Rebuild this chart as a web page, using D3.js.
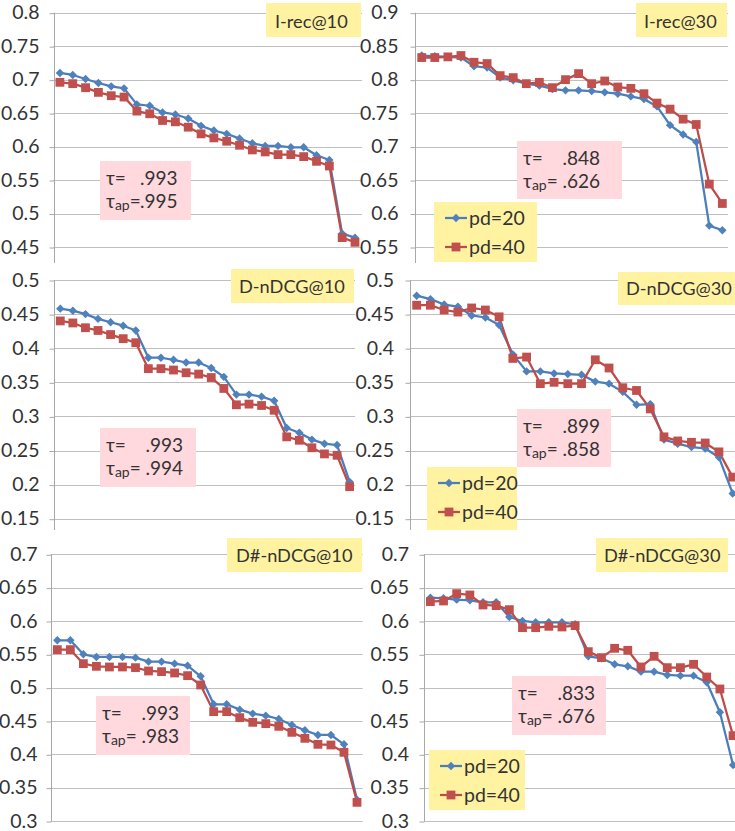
<!DOCTYPE html>
<html><head><meta charset="utf-8">
<script src="https://cdn.jsdelivr.net/npm/d3@7"></script>
<style>body{margin:0;background:#fff} svg text{font-family:Lato,"Open Sans",sans-serif;fill:#333}</style>
</head><body><svg id="c" width="735" height="831"></svg>
<script>
// ---------- data ----------
const seriesNames = ["pd=20", "pd=40"];
const titles = ["I-rec@10", "I-rec@30", "D-nDCG@10", "D-nDCG@30", "D#-nDCG@10", "D#-nDCG@30"];
const tauValues = [".993", ".848", ".993", ".899", ".993", ".833"];
const tauApValues = [".995", ".626", ".994", ".858", ".983", ".676"];

const ticksIrec10 = [0.45, 0.5, 0.55, 0.6, 0.65, 0.7, 0.75, 0.8];
const ticksIrec30 = [0.55, 0.6, 0.65, 0.7, 0.75, 0.8, 0.85, 0.9];
const ticksDndcg = [0.15, 0.2, 0.25, 0.3, 0.35, 0.4, 0.45, 0.5];
const ticksDsharp = [0.3, 0.35, 0.4, 0.45, 0.5, 0.55, 0.6, 0.65, 0.7];

const irec10_pd20 = [0.710, 0.707, 0.701, 0.695, 0.690, 0.687, 0.663, 0.661, 0.651, 0.648, 0.642, 0.631, 0.624, 0.619, 0.612, 0.605, 0.601, 0.601, 0.599, 0.599, 0.587, 0.580, 0.470, 0.464];
const irec10_pd40 = [0.696, 0.694, 0.688, 0.681, 0.676, 0.674, 0.653, 0.649, 0.639, 0.637, 0.629, 0.619, 0.613, 0.608, 0.602, 0.595, 0.592, 0.588, 0.588, 0.585, 0.578, 0.571, 0.464, 0.457];

const irec30_pd20 = [0.836, 0.835, 0.834, 0.833, 0.820, 0.818, 0.803, 0.799, 0.794, 0.791, 0.786, 0.784, 0.784, 0.783, 0.781, 0.779, 0.775, 0.771, 0.760, 0.732, 0.718, 0.707, 0.582, 0.575];
const irec30_pd40 = [0.833, 0.833, 0.834, 0.836, 0.826, 0.824, 0.806, 0.803, 0.794, 0.796, 0.788, 0.800, 0.809, 0.794, 0.798, 0.789, 0.787, 0.779, 0.765, 0.756, 0.741, 0.733, 0.644, 0.615];

const dndcg10_pd20 = [0.458, 0.455, 0.450, 0.443, 0.438, 0.433, 0.426, 0.386, 0.386, 0.383, 0.379, 0.379, 0.371, 0.358, 0.332, 0.332, 0.329, 0.323, 0.283, 0.276, 0.266, 0.260, 0.258, 0.204];
const dndcg10_pd40 = [0.440, 0.437, 0.430, 0.426, 0.420, 0.414, 0.408, 0.370, 0.370, 0.368, 0.364, 0.362, 0.357, 0.341, 0.317, 0.318, 0.316, 0.309, 0.270, 0.265, 0.254, 0.245, 0.243, 0.197];

const dndcg30_pd20 = [0.477, 0.472, 0.464, 0.461, 0.448, 0.445, 0.434, 0.391, 0.366, 0.366, 0.363, 0.362, 0.361, 0.351, 0.348, 0.336, 0.317, 0.318, 0.266, 0.260, 0.255, 0.253, 0.240, 0.187];
const dndcg30_pd40 = [0.463, 0.463, 0.456, 0.453, 0.459, 0.456, 0.446, 0.385, 0.387, 0.348, 0.350, 0.348, 0.348, 0.383, 0.371, 0.342, 0.338, 0.311, 0.270, 0.264, 0.262, 0.261, 0.248, 0.211];

const dsharp10_pd20 = [0.571, 0.571, 0.550, 0.546, 0.546, 0.546, 0.545, 0.539, 0.539, 0.536, 0.533, 0.517, 0.475, 0.475, 0.467, 0.461, 0.458, 0.453, 0.444, 0.436, 0.429, 0.429, 0.415, 0.332];
const dsharp10_pd40 = [0.557, 0.557, 0.536, 0.532, 0.531, 0.531, 0.530, 0.525, 0.524, 0.522, 0.518, 0.504, 0.464, 0.464, 0.455, 0.448, 0.446, 0.442, 0.433, 0.424, 0.415, 0.414, 0.403, 0.328];

const dsharp30_pd20 = [0.635, 0.634, 0.632, 0.631, 0.628, 0.628, 0.606, 0.600, 0.598, 0.598, 0.598, 0.595, 0.547, 0.544, 0.535, 0.532, 0.524, 0.524, 0.519, 0.518, 0.518, 0.508, 0.463, 0.384];
const dsharp30_pd40 = [0.629, 0.630, 0.641, 0.639, 0.624, 0.623, 0.617, 0.590, 0.590, 0.592, 0.591, 0.593, 0.554, 0.545, 0.559, 0.556, 0.531, 0.547, 0.530, 0.530, 0.535, 0.516, 0.498, 0.428];

// ---------- layout (positions / sizes) ----------
const layout = [
  {series:[irec10_pd20, irec10_pd40], ticks:ticksIrec10, axisX:53.5, bandW:12.83, gridR:362, yBot:247, yTop:12.7, axisBot:263, gap:10,
   title:{x:266,y:3,w:95,h:34,tx:9,ty:25}, tau:{x:100,y:161,w:91,h:59,vx:40}, legend:null},
  {series:[irec30_pd20, irec30_pd40], ticks:ticksIrec30, axisX:415.2, bandW:13.07, gridR:728, yBot:247, yTop:12.7, axisBot:263, gap:12,
   title:{x:636,y:3,w:91,h:34,tx:8,ty:25}, tau:{x:517,y:141,w:105,h:58,vx:45.5}, legend:{x:434,y:202,w:103,h:60}},
  {series:[dndcg10_pd20, dndcg10_pd40], ticks:ticksDndcg, axisX:54, bandW:12.58, gridR:355, yBot:518.7, yTop:280, axisBot:530, gap:10,
   title:{x:231,y:269,w:123,h:34,tx:8,ty:24}, tau:{x:100,y:428,w:96,h:59,vx:45.5}, legend:null},
  {series:[dndcg30_pd20, dndcg30_pd40], ticks:ticksDndcg, axisX:409.8, bandW:13.74, gridR:735, yBot:518.7, yTop:280, axisBot:530, gap:11.5,
   title:{x:618,y:272,w:120,h:33,tx:8,ty:23}, tau:{x:517,y:409,w:94,h:58,vx:45.5}, legend:{x:427,y:467,w:90,h:63}},
  {series:[dsharp10_pd20, dsharp10_pd40], ticks:ticksDsharp, axisX:50.8, bandW:13.03, gridR:362.7, yBot:821, yTop:554.3, axisBot:821, gap:9,
   title:{x:227,y:538,w:135,h:34,tx:9,ty:24}, tau:{x:96,y:696,w:94,h:59,vx:45.5}, legend:null},
  {series:[dsharp30_pd20, dsharp30_pd40], ticks:ticksDsharp, axisX:423.8, bandW:13.16, gridR:735, yBot:821, yTop:554.3, axisBot:821, gap:10.5,
   title:{x:596,y:538,w:132,h:34,tx:8,ty:24}, tau:{x:512,y:676,w:94,h:59,vx:45.5}, legend:{x:429,y:750,w:96,h:60}}
];

const colors = ["#4A7EBB", "#BE4B48"];
const markerFill = ["#4F81BD", "#C0504D"];
const yellow = "#FFF2A1", pink = "#FFD9DE", gridColor = "#BFBFBF", axisColor = "#A8A8A8";
const fontSize = 19.5, titleFont = 18.2, tauFont = 19, subFont = 14;

const svg = d3.select("#c");
const diamond = r => `M0,${-r}L${r},0L0,${r}L${-r},0Z`;
const square = r => `M${-r},${-r}H${r}V${r}H${-r}Z`;
const markerPath = [diamond(4.2), square(4.4)];

layout.forEach((p, pi) => {
  const g = svg.append("g");
  const n = p.series[0].length;
  const x = d3.scaleBand().domain(d3.range(n)).range([p.axisX, p.axisX + n * p.bandW]);
  const y = d3.scaleLinear().domain([p.ticks[0], p.ticks[p.ticks.length - 1]]).range([p.yBot, p.yTop]);

  // gridlines
  g.append("g").selectAll("line").data(p.ticks).join("line")
    .attr("x1", p.axisX).attr("x2", p.gridR)
    .attr("y1", d => Math.round(y(d)) + 0.5).attr("y2", d => Math.round(y(d)) + 0.5)
    .attr("stroke", gridColor).attr("stroke-width", 1);

  // y axis
  const ax = g.append("g").attr("transform", `translate(${Math.round(p.axisX) + 0.5},0)`)
    .call(d3.axisLeft(y).tickValues(p.ticks).tickSize(5).tickPadding(p.gap).tickFormat(d => String(+d.toFixed(2))));
  ax.select(".domain").remove();
  ax.selectAll(".tick line").attr("stroke", axisColor).attr("transform", "translate(0,0.5)");
  ax.selectAll(".tick text").attr("font-size", fontSize).style("font-family", "Lato").attr("fill", "#333");
  g.append("line").attr("x1", Math.round(p.axisX) + 0.5).attr("x2", Math.round(p.axisX) + 0.5)
    .attr("y1", p.yTop).attr("y2", p.axisBot).attr("stroke", axisColor);

  // series lines + markers
  p.series.forEach((vals, si) => {
    const line = d3.line().x((d, i) => x(i) + x.bandwidth() / 2).y(d => y(d));
    g.append("path").datum(vals).attr("d", line).attr("fill", "none")
      .attr("stroke", colors[si]).attr("stroke-width", 2.25).attr("stroke-linejoin", "round");
  });
  p.series.forEach((vals, si) => {
    g.append("g").selectAll("path").data(vals).join("path")
      .attr("transform", (d, i) => `translate(${x(i) + x.bandwidth() / 2},${y(d)})`)
      .attr("d", markerPath[si]).attr("fill", markerFill[si]);
  });

  // tau box
  const t = p.tau;
  const tg = g.append("g").attr("transform", `translate(${t.x},${t.y})`);
  tg.append("rect").attr("width", t.w).attr("height", t.h).attr("fill", pink);
  const l1 = tg.append("text").attr("y", 24).attr("font-size", tauFont);
  l1.append("tspan").attr("x", 6).text("τ=");
  l1.append("tspan").attr("x", t.vx).text(tauValues[pi]);
  const l2 = tg.append("text").attr("y", 47).attr("font-size", tauFont);
  l2.append("tspan").attr("x", 6).text("τ");
  l2.append("tspan").attr("font-size", subFont).attr("dy", 1.5).text("ap");
  l2.append("tspan").attr("dy", -1.5).text("=");
  l2.append("tspan").attr("x", t.vx).text(tauApValues[pi]);

  // legend
  if (p.legend) {
    const L = p.legend;
    const lg = g.append("g").attr("transform", `translate(${L.x},${L.y})`);
    lg.append("rect").attr("width", L.w).attr("height", L.h).attr("fill", yellow);
    seriesNames.forEach((name, si) => {
      const cy = 16 + si * 29;
      lg.append("line").attr("x1", 11).attr("x2", 33).attr("y1", cy).attr("y2", cy)
        .attr("stroke", colors[si]).attr("stroke-width", 2.25);
      lg.append("path").attr("transform", `translate(22,${cy})`).attr("d", markerPath[si]).attr("fill", markerFill[si]);
      lg.append("text").attr("x", 35).attr("y", cy + 7).attr("font-size", fontSize).text(name);
    });
  }

  // title box
  const T = p.title;
  const ttg = g.append("g").attr("transform", `translate(${T.x},${T.y})`);
  ttg.append("rect").attr("width", T.w).attr("height", T.h).attr("fill", yellow);
  ttg.append("text").attr("x", T.tx).attr("y", T.ty).attr("font-size", titleFont).text(titles[pi]);
});
</script>
</body></html>
